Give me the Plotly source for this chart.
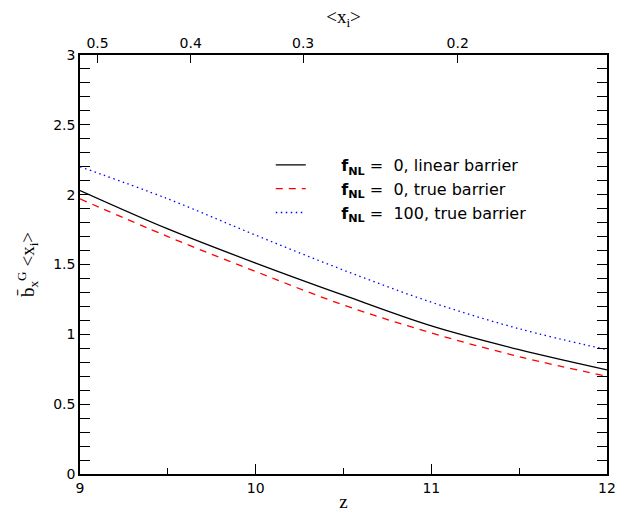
import plotly.graph_objects as go

z = [9.0, 9.5, 10.0, 10.5, 11.0, 11.5, 12.0]
lin_f0 = [2.03, 1.755, 1.51, 1.28, 1.06, 0.89, 0.745]
true_f0 = [1.97, 1.70, 1.45, 1.21, 1.01, 0.84, 0.70]
true_f100 = [2.20, 1.97, 1.71, 1.46, 1.23, 1.04, 0.89]

xi_labels = ["0.5", "0.4", "0.3", "0.2"]
xi_z = [9.10, 9.63, 10.27, 11.15]

sp = "&nbsp;"
names = [f"{sp*6}<b>f<sub>NL</sub></b>{sp}={sp*2}0,{sp}linear barrier",
         f"{sp*6}<b>f<sub>NL</sub></b>{sp}={sp*2}0,{sp}true barrier",
         f"{sp*6}<b>f<sub>NL</sub></b>{sp}={sp*2}100,{sp}true barrier"]

fig = go.Figure()
fig.add_trace(go.Scatter(x=z, y=lin_f0, mode="lines", name=names[0],
                         line=dict(color="black", width=1.3, shape="spline")))
fig.add_trace(go.Scatter(x=z, y=true_f0, mode="lines", name=names[1],
                         line=dict(color="#ff0000", width=1.3, dash="7px,6px", shape="spline")))
fig.add_trace(go.Scatter(x=z, y=true_f100, mode="lines", name=names[2],
                         line=dict(color="#0000ff", width=1.3, dash="1.5px,3.5px", shape="spline")))
# invisible trace for top axis
fig.add_trace(go.Scatter(x=[9, 12], y=[0, 0], xaxis="x2", mode="lines",
                         line=dict(width=0), showlegend=False, hoverinfo="skip"))

tickfont = dict(family="DejaVu Sans, sans-serif", size=14, color="black")
serif = "Liberation Serif, DejaVu Serif, serif"

fig.update_layout(
    width=628, height=514,
    margin=dict(l=80, r=21, t=55, b=40),
    paper_bgcolor="white", plot_bgcolor="white",
    font=dict(family="DejaVu Sans, sans-serif", size=14, color="black"),
    xaxis=dict(range=[9, 12], tickvals=[9, 10, 11, 12], ticks="inside", ticklen=10,
               tickwidth=1, tickcolor="black", showline=True, linecolor="black", linewidth=1.5,
               showgrid=False, zeroline=False, tickfont=tickfont, automargin=False,
               minor=dict(tickvals=[9.5, 10.5, 11.5], ticks="inside", ticklen=6,
                          tickcolor="black", showgrid=False),
               title=dict(text="z", font=dict(family=serif, size=19), standoff=0)),
    xaxis2=dict(range=[9, 12], overlaying="x", side="top", tickvals=xi_z, ticktext=xi_labels,
                ticks="inside", ticklen=8, tickwidth=1, tickcolor="black", showline=True,
                linecolor="black", linewidth=1.5, showgrid=False, zeroline=False, tickfont=tickfont,
                automargin=False,
                title=dict(text="&lt;x<sub>i</sub>&gt;", font=dict(family=serif, size=19), standoff=6)),
    yaxis=dict(range=[0, 3], tickvals=[0, 0.5, 1, 1.5, 2, 2.5, 3],
               ticktext=["0", "0.5", "1", "1.5", "2", "2.5", "3"],
               ticks="inside", ticklen=10, tickwidth=1, tickcolor="black", showline=True,
               linecolor="black", linewidth=1.5, mirror="allticks", showgrid=False, zeroline=False,
               tickfont=tickfont, automargin=False,
               minor=dict(dtick=0.1, ticks="inside", ticklen=5, tickcolor="black", showgrid=False),
               title=dict(text="b&#772;<sub>x</sub><sup>G</sup> &lt;x<sub>i</sub>&gt;",
                          font=dict(family=serif, size=19), standoff=14)),
    legend=dict(x=0.362, y=0.778, xanchor="left", yanchor="top", bgcolor="rgba(0,0,0,0)",
                font=dict(family="DejaVu Sans, sans-serif", size=16),
                itemwidth=30, tracegroupgap=0),
    showlegend=True,
)

fig.write_html("out.html", config={"displayModeBar": False},
               post_script="document.body.style.margin='0';")
